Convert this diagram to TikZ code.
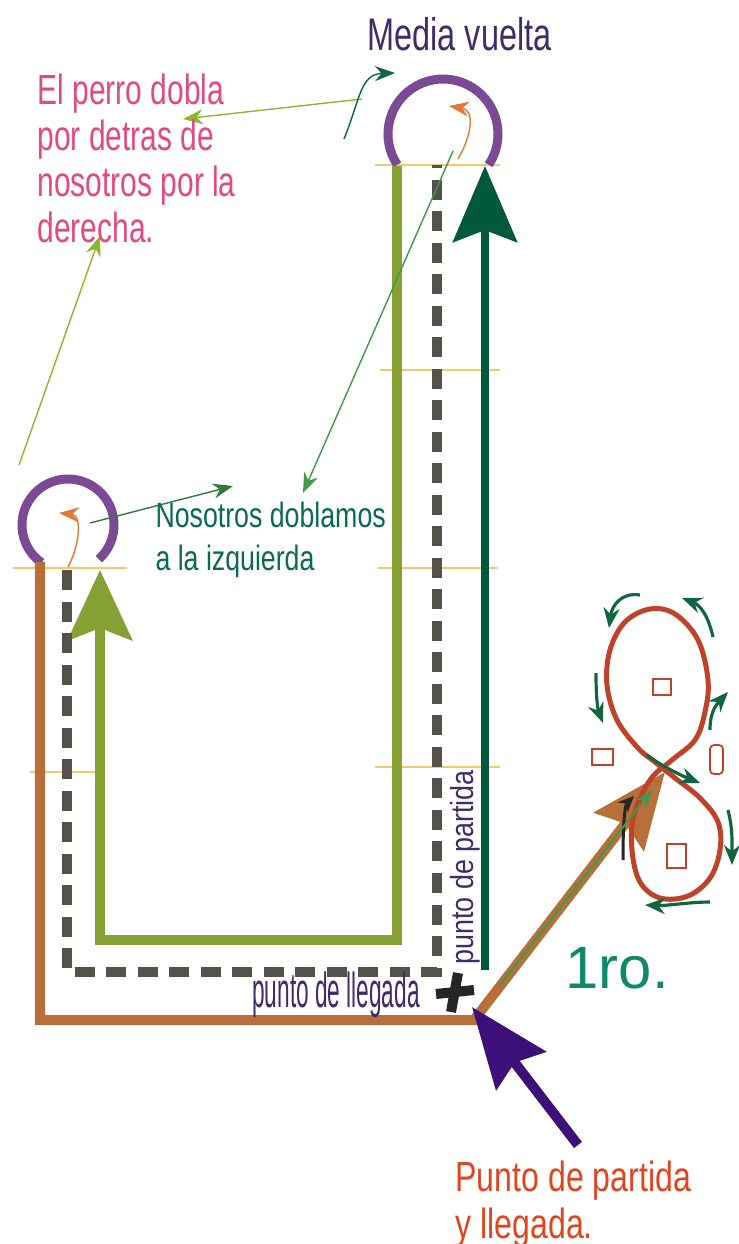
\documentclass[tikz,border=0pt]{standalone}
\usepackage{fontspec}
\setmainfont{Liberation Sans}
\usetikzlibrary{calc}
\usetikzlibrary{arrows.meta}
\definecolor{mypurple}{rgb}{0.48,0.29,0.58}
\definecolor{mybrown}{rgb}{0.72,0.44,0.23}
\definecolor{myolive}{rgb}{0.52,0.63,0.20}
\definecolor{mydark}{rgb}{0.33,0.32,0.29}
\definecolor{mydeepgreen}{rgb}{0.0,0.35,0.22}
\definecolor{myindigo}{rgb}{0.24,0.06,0.47}
\definecolor{myred}{rgb}{0.75,0.26,0.16}
\definecolor{mylime}{rgb}{0.55,0.72,0.18}
\definecolor{mygreen}{rgb}{0.25,0.60,0.30}
\definecolor{mypine}{rgb}{0.06,0.40,0.25}
\definecolor{myorange}{rgb}{0.88,0.48,0.21}
\definecolor{mypink}{rgb}{0.89,0.29,0.49}
\definecolor{myviolet}{rgb}{0.25,0.17,0.42}
\definecolor{mytext}{rgb}{0.04,0.42,0.31}
\definecolor{mysea}{rgb}{0.06,0.54,0.41}
\definecolor{myvermilion}{rgb}{0.88,0.27,0.12}
\definecolor{mysand}{rgb}{0.95,0.79,0.42}

\begin{document}
\begin{tikzpicture}[%
  >={Stealth[scale=1.0]},
  x=0.01cm, y=-0.01cm,
  track/.style={line width=0.1cm},
  turn/.style={mypurple, line width=0.09cm},
  tick/.style={mysand, line width=0.6pt},
  note/.style={line width=0.4pt, -{Stealth[length=0.2cm,width=0.15cm]}},
  swirl/.style={mypine, line width=0.9pt, -{Stealth[length=0.2cm,width=0.16cm]}},
  box/.style={myred, line width=0.5pt},
  txt/.style={anchor=base west, inner sep=0pt},
]

  \useasboundingbox (0,0) rectangle (738,1244);

  \coordinate (tc) at (443,134);
  \coordinate (lc) at (68,525);

  \coordinate (b0) at (40,562);
  \coordinate (b1) at (40,1020);
  \coordinate (b2) at (474,1020);
  \coordinate (b3) at (665,772);

  \coordinate (g0) at (397,166);
  \coordinate (g1) at (397,940);
  \coordinate (g2) at (100,940);
  \coordinate (g3) at (100,570);

  \coordinate (d0) at (67,570);
  \coordinate (d1) at (67,972);
  \coordinate (d2) at (437,972);
  \coordinate (d3) at (437,165);

  \coordinate (s0) at (485,970);
  \coordinate (s1) at (485,166);

  \coordinate (p0) at (578,1145);
  \coordinate (p1) at (472,1007);

  % marks across the tracks
  \foreach \xa/\xb/\yy in {375/500/165, 380/500/370, 378/498/568,
    375/500/767, 13/127/568, 30/95/772}
    \draw[tick] (\xa,\yy) -- (\xb,\yy);

  % half turns
  \draw[turn] ($(tc)+(146:55)$) arc[start angle=146, end angle=394, radius=55];
  \draw[turn] ($(lc)+(125:46)$) arc[start angle=125, end angle=408, radius=46];

  % the walks
  \draw[track, mybrown, -{Stealth[length=0.75cm,width=0.62cm,inset=0.1cm]}]
    (b0) -- (b1) -- (b2) -- (b3);
  \draw[track, myolive, -{Stealth[length=0.7cm,width=0.64cm,inset=0.12cm]}]
    (g0) -- (g1) -- (g2) -- (g3);
  \draw[track, mydark, dash pattern=on 0.2cm off 0.115cm]
    (d0) -- (d1) -- (d2) -- (d3);
  \draw[line width=0.08cm, mydeepgreen, -{Stealth[length=0.76cm,width=0.64cm,inset=0.12cm]}]
    (s0) -- (s1);
  \draw[track, myindigo, -{Stealth[length=0.8cm,width=0.62cm,inset=0.1cm]}]
    (p0) -- (p1);

  % start mark
  \draw[line width=0.1cm, black!85] (436,994) -- (474,990);
  \draw[line width=0.1cm, black!85] (458,973) -- (451,1012);

  % eight
  \draw[myred, line width=0.05cm] plot[smooth cycle, tension=0.6] coordinates {
    (650,780) (672,760) (695,740) (705,712) (708,680) (698,640) (675,614)
    (650,609) (625,622) (610,650) (607,685) (617,720) (638,748) (655,762)
    (675,778) (700,798) (718,822) (720,850) (710,878) (688,896) (660,898)
    (640,882) (632,850) (634,815)};
  \draw[box] (653,679) rectangle (671,695);
  \draw[box] (592,749) rectangle (613,765);
  \draw[box, rounded corners=0.04cm] (710,745) rectangle (723,774);
  \draw[box] (667,844) rectangle (686,868);

  \coordinate (w1a) at (640,595);   \coordinate (w1b) at (609,628);
  \coordinate (w2a) at (713,637);   \coordinate (w2b) at (682,598);
  \coordinate (w3a) at (596,673);   \coordinate (w3b) at (603,723);
  \coordinate (w4a) at (710,730);   \coordinate (w4b) at (728,692);
  \coordinate (w5a) at (647,755);   \coordinate (w5b) at (700,783);
  \coordinate (w6a) at (728,810);   \coordinate (w6b) at (732,865);
  \coordinate (w7a) at (710,902);   \coordinate (w7b) at (645,905);
  \draw[swirl] (w1a) .. controls (622,592) and (612,605) .. (w1b);
  \draw[swirl] (w2a) .. controls (708,615) and (700,605) .. (w2b);
  \draw[swirl] (w3a) .. controls (596,700) and (598,710) .. (w3b);
  \draw[swirl] (w4a) .. controls (710,712) and (716,705) .. (w4b);
  \draw[swirl] (w5a) .. controls (660,765) and (680,775) .. (w5b);
  \draw[swirl] (w6a) .. controls (733,830) and (732,845) .. (w6b);
  \draw[swirl] (w7a) .. controls (690,902) and (665,906) .. (w7b);

  \coordinate (k0) at (623,860);
  \coordinate (k1) at (634,796);
  \draw[line width=0.03cm, black!85, -{Stealth[length=0.16cm,width=0.14cm]}]
    (k0) .. controls (623,820) and (625,805) .. (k1);
  \coordinate (e0) at (500,985);
  \coordinate (e1) at (652,790);
  \draw[line width=0.02cm, mygreen, -{Stealth[length=0.18cm,width=0.13cm]}] (e0) -- (e1);

  % pointers
  \coordinate (n0) at (362,99);   \coordinate (n1) at (183,119);
  \coordinate (n2) at (344,139);  \coordinate (n3) at (395,73);
  \coordinate (n4) at (458,159);  \coordinate (n5) at (449,106);
  \coordinate (n6) at (453,151);  \coordinate (n7) at (303,493);
  \coordinate (n8) at (90,523);   \coordinate (n9) at (233,486);
  \coordinate (m0) at (19,465);   \coordinate (m1) at (100,236);
  \coordinate (m2) at (68,567);   \coordinate (m3) at (59,513);
  \draw[note, mylime] (n0) -- (n1);
  \draw[note, mypine] (n2) .. controls (360,100) and (360,74) .. (n3);
  \draw[note, myorange] (n4) .. controls (472,135) and (475,110) .. (n5);
  \draw[note, mygreen] (n6) -- (n7);
  \draw[note, mygreen!80!black] (n8) -- (n9);
  \draw[note, mylime] (m0) -- (m1);
  \draw[note, myorange] (m2) .. controls (80,545) and (82,515) .. (m3);

  % texts (base = last line)
  \node[txt, myviolet, font=\fontsize{13}{13}\selectfont, xscale=0.71] (mv) at (367,50) {Media vuelta};
  \node[txt, mypink, align=left, font=\fontsize{12}{13}\selectfont, xscale=0.71] (perro) at (37,242)
    {El perro dobla\\por detras de\\nosotros por la\\derecha.};
  \node[txt, mytext, align=left, font=\fontsize{10}{12}\selectfont, xscale=0.76] (nos) at (155,570)
    {Nosotros doblamos\\a la izquierda};
  \node[txt, myviolet, font=\fontsize{9.1}{9.1}\selectfont, rotate=90, xscale=0.84] (pp) at (473,965) {punto de partida};
  \node[txt, myviolet, font=\fontsize{14}{14}\selectfont, xscale=0.46] (pl) at (252,1007) {punto de llegada};
  \node[txt, mysea, font=\fontsize{17}{17}\selectfont] (ro) at (565,988) {1ro.};
  \node[txt, myvermilion, align=left, font=\fontsize{12}{13.3}\selectfont, xscale=0.76] (pyl) at (455,1238)
    {Punto de partida\\y llegada.};

\end{tikzpicture}
\end{document}
